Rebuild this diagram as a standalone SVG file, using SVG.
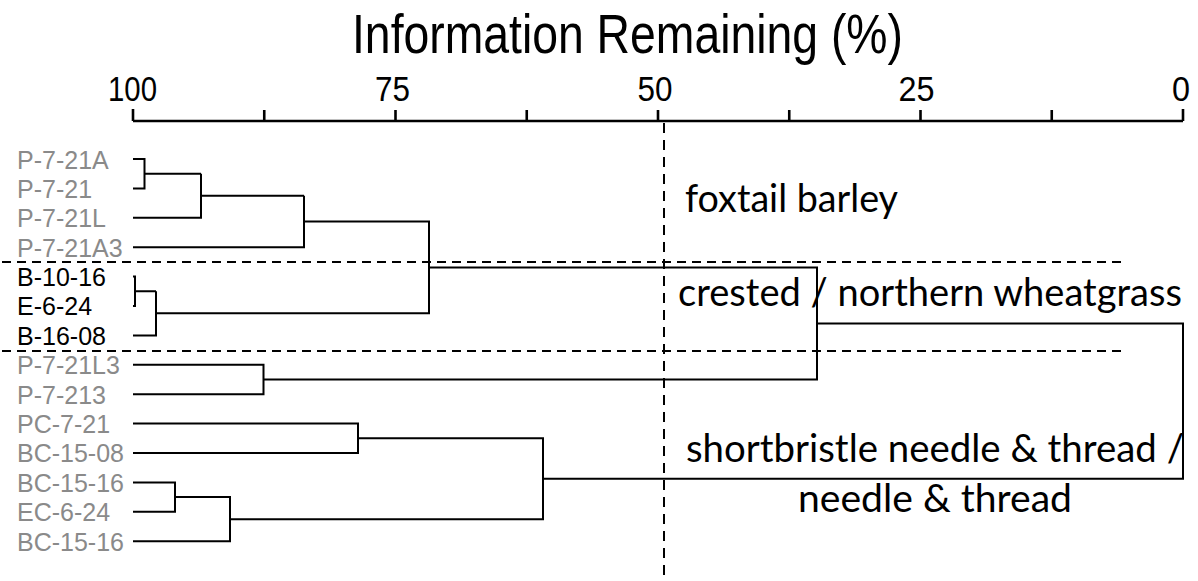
<svg xmlns="http://www.w3.org/2000/svg" width="1198" height="581" viewBox="0 0 1198 581">
<style>
.ax{stroke:#000;stroke-width:2.6;fill:none}
.tk{font-family:"Liberation Sans",Arial,sans-serif;font-size:35px;fill:#000;text-anchor:middle}
.title{font-family:"Liberation Sans",Arial,sans-serif;font-size:55px;fill:#000}
.lf{font-family:"Liberation Sans",Arial,sans-serif;font-size:25px;fill:#8a8a8a}
.lf.blk{fill:#000}
.tree{stroke:#000;stroke-width:2;fill:none}
.dash{stroke:#000;stroke-width:2;fill:none;stroke-dasharray:9 6}
.vdash{stroke:#000;stroke-width:2;fill:none;stroke-dasharray:10 7}
.grp{font-family:Lato,"Open Sans",sans-serif;font-size:39px;fill:#000}
</style>
<rect width="1198" height="581" fill="#fff"/>
<g id="title"><text class="title" x="352" y="53" textLength="551" lengthAdjust="spacingAndGlyphs">Information Remaining (%)</text></g>
<g id="axis">
<path class="ax" d="M133 121H1183M133 109V121M264.25 110V121M395.5 110V121M526.75 110V121M658 110V121M789.25 110V121M920.5 110V121M1051.75 110V121M1183 109V121"/>
<text class="tk" x="132.5" y="101" textLength="49" lengthAdjust="spacingAndGlyphs">100</text>
<text class="tk" x="392.5" y="101" textLength="35" lengthAdjust="spacingAndGlyphs">75</text>
<text class="tk" x="655" y="101" textLength="35" lengthAdjust="spacingAndGlyphs">50</text>
<text class="tk" x="916.5" y="101" textLength="36" lengthAdjust="spacingAndGlyphs">25</text>
<text class="tk" x="1181" y="101" textLength="18" lengthAdjust="spacingAndGlyphs">0</text>
</g>
<g id="guides">
<path class="dash" d="M2 262H1126M2 351H1126"/>
<path class="vdash" d="M664 123V581"/>
</g>
<g id="leaves">
<g id="leaf-P-7-21A"><text class="lf" x="17" y="169">P-7-21A</text></g>
<g id="leaf-P-7-21"><text class="lf" x="17" y="198">P-7-21</text></g>
<g id="leaf-P-7-21L"><text class="lf" x="17" y="227">P-7-21L</text></g>
<g id="leaf-P-7-21A3"><text class="lf" x="17" y="257">P-7-21A3</text></g>
<g id="leaf-B-10-16"><text class="lf blk" x="17" y="286">B-10-16</text></g>
<g id="leaf-E-6-24"><text class="lf blk" x="17" y="315">E-6-24</text></g>
<g id="leaf-B-16-08"><text class="lf blk" x="17" y="345">B-16-08</text></g>
<g id="leaf-P-7-21L3"><text class="lf" x="17" y="374">P-7-21L3</text></g>
<g id="leaf-P-7-213"><text class="lf" x="17" y="404">P-7-213</text></g>
<g id="leaf-PC-7-21"><text class="lf" x="17" y="433">PC-7-21</text></g>
<g id="leaf-BC-15-08"><text class="lf" x="17" y="462">BC-15-08</text></g>
<g id="leaf-BC-15-16a"><text class="lf" x="17" y="492">BC-15-16</text></g>
<g id="leaf-EC-6-24"><text class="lf" x="17" y="521">EC-6-24</text></g>
<g id="leaf-BC-15-16b"><text class="lf" x="17" y="551">BC-15-16</text></g>
</g>
<g id="connectors">
<path class="tree" d="M133 159H144.5V188.4H133M144.5 173.7H201M133 217.8H201V173.7M201 195.7H304M133 247.2H304V195.7"/>
<path class="tree" d="M133 276.6H135V306H133M135 291.3H156M133 335.4H156V291.3"/>
<path class="tree" d="M304 221.5H429V313.3H156M429 267.4H817V379.5H263.5M133 364.8H263.5V394.2H133"/>
<path class="tree" d="M133 423.6H358V453H133M358 438.3H543V519.2H230M133 482.4H175V511.8H133M175 497.1H230V541.2H133"/>
<path class="tree" d="M817 323.5H1183V478.7H543"/>
</g>
<g id="group-labels">
<text class="grp" x="685" y="212" textLength="213" lengthAdjust="spacingAndGlyphs">foxtail barley</text>
<text class="grp" x="678" y="306" textLength="504" lengthAdjust="spacingAndGlyphs">crested / northern wheatgrass</text>
<text class="grp" x="686" y="462" textLength="498" lengthAdjust="spacingAndGlyphs">shortbristle needle &amp; thread /</text>
<text class="grp" x="798" y="512" textLength="274" lengthAdjust="spacingAndGlyphs">needle &amp; thread</text>
</g>
</svg>
